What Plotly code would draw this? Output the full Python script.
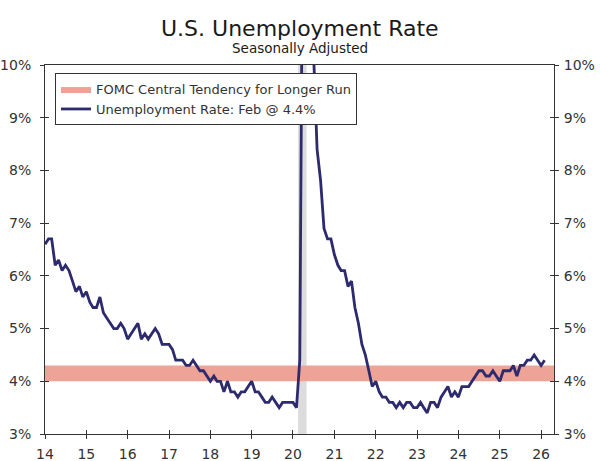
import pandas as pd
import plotly.graph_objects as go

# Unemployment rate, monthly, Jan 2014 - Feb 2026 (%)
rate_2014 = [6.6, 6.7, 6.7, 6.2, 6.3, 6.1, 6.2, 6.1, 5.9, 5.7, 5.8, 5.6]
rate_2015 = [5.7, 5.5, 5.4, 5.4, 5.6, 5.3, 5.2, 5.1, 5.0, 5.0, 5.1, 5.0]
rate_2016 = [4.8, 4.9, 5.0, 5.1, 4.8, 4.9, 4.8, 4.9, 5.0, 4.9, 4.7, 4.7]
rate_2017 = [4.7, 4.6, 4.4, 4.4, 4.4, 4.3, 4.3, 4.4, 4.3, 4.2, 4.2, 4.1]
rate_2018 = [4.0, 4.1, 4.0, 4.0, 3.8, 4.0, 3.8, 3.8, 3.7, 3.8, 3.8, 3.9]
rate_2019 = [4.0, 3.8, 3.8, 3.7, 3.6, 3.6, 3.7, 3.6, 3.5, 3.6, 3.6, 3.6]
rate_2020 = [3.6, 3.5, 4.4, 14.8, 13.2, 11.0, 10.2, 8.4, 7.8, 6.9, 6.7, 6.7]
rate_2021 = [6.4, 6.2, 6.1, 6.1, 5.8, 5.9, 5.4, 5.1, 4.7, 4.5, 4.2, 3.9]
rate_2022 = [4.0, 3.8, 3.7, 3.7, 3.6, 3.6, 3.5, 3.6, 3.5, 3.6, 3.6, 3.5]
rate_2023 = [3.5, 3.6, 3.5, 3.4, 3.6, 3.6, 3.5, 3.7, 3.8, 3.9, 3.7, 3.8]
rate_2024 = [3.7, 3.9, 3.9, 3.9, 4.0, 4.1, 4.2, 4.2, 4.1, 4.1, 4.2, 4.1]
rate_2025 = [4.0, 4.2, 4.2, 4.2, 4.3, 4.1, 4.3, 4.3, 4.4, 4.4, 4.5, 4.4]
rate_2026 = [4.3, 4.4]

# FOMC longer-run central tendency
fomc_low = 4.0
fomc_high = 4.3

# recession shading
recession_start = "2020-02-15"
recession_end = "2020-04-30"

year_ticks = [f"{y}-01-01" for y in range(2014, 2027)]
year_labels = [str(y)[2:] for y in range(2014, 2027)]
pct_ticks = [3, 4, 5, 6, 7, 8, 9, 10]
pct_labels = [f"{v}%" for v in pct_ticks]

rates = (rate_2014 + rate_2015 + rate_2016 + rate_2017 + rate_2018 + rate_2019
         + rate_2020 + rate_2021 + rate_2022 + rate_2023 + rate_2024 + rate_2025
         + rate_2026)
dates = pd.date_range("2014-01-01", periods=len(rates), freq="MS")

x_start = "2014-01-01"
x_end = "2026-04-25"

NAVY = "#2d2a6e"
SALMON = "#eda396"
AXIS = "#333333"
FONT = "DejaVu Sans"

fig = go.Figure()

# band on the base axes, line on the overlay axes (drawn on top)
fig.add_trace(go.Scatter(
    x=[x_start, x_end, x_end, x_start, x_start],
    y=[fomc_low, fomc_low, fomc_high, fomc_high, fomc_low],
    fill="toself", fillcolor=SALMON, mode="lines", line=dict(width=0, color=SALMON),
    name="FOMC Central Tendency for Longer Run", hoverinfo="skip",
    xaxis="x", yaxis="y"))

fig.add_trace(go.Scatter(
    x=dates, y=rates, mode="lines", line=dict(color=NAVY, width=2.8),
    name="Unemployment Rate: Feb @ 4.4%", xaxis="x2", yaxis="y2"))

fig.add_shape(type="rect", xref="x", yref="paper", x0=recession_start, x1=recession_end,
              y0=0, y1=1, fillcolor="#dcdcdc", line_width=0, layer="below")

common_y = dict(range=[3, 10], tickvals=pct_ticks, ticktext=pct_labels, showgrid=False,
                zeroline=False, linecolor=AXIS, linewidth=1, tickcolor=AXIS, ticklen=4,
                tickfont=dict(size=14, color=AXIS), ticklabelstandoff=6, automargin=False)
common_x = dict(range=[x_start, x_end], tickvals=year_ticks, ticktext=year_labels,
                showgrid=False, zeroline=False, linecolor=AXIS, linewidth=1,
                tickcolor=AXIS, ticklen=4, automargin=False)

fig.update_layout(
    width=600, height=461,
    margin=dict(l=45, r=46, t=65, b=27),
    paper_bgcolor="white", plot_bgcolor="white",
    font=dict(family=FONT, color=AXIS),
    showlegend=True,
    legend=dict(x=0.0196, y=0.978, xanchor="left", yanchor="top",
                bgcolor="white", bordercolor=AXIS, borderwidth=1,
                font=dict(size=13, color=AXIS), tracegroupgap=0,
                itemwidth=30),
    xaxis=dict(**common_x, ticks="outside", tickfont=dict(size=14, color=AXIS),
               ticklabelstandoff=3, mirror=True),
    xaxis2=dict(**common_x, ticks="inside", overlaying="x", anchor="y2",
                showticklabels=False),
    yaxis=dict(**common_y, ticks="outside", side="left", mirror="allticks"),
    yaxis2=dict(**common_y, ticks="inside", side="right", overlaying="y", anchor="x2",
                mirror="allticks"),
    annotations=[
        dict(text="U.S. Unemployment Rate", xref="paper", yref="paper", x=0.5, y=1.098,
             xanchor="center", yanchor="middle", showarrow=False,
             font=dict(size=22, color="#1a1a1a")),
        dict(text="Seasonally Adjusted", xref="paper", yref="paper", x=0.5, y=1.046,
             xanchor="center", yanchor="middle", showarrow=False,
             font=dict(size=13.5, color="#1a1a1a")),
    ],
)

# drop the browser's default page margin so the 600x461 figure fills the window
fig.write_html("out.html", config={"displayModeBar": False},
               post_script="document.body.style.margin = '0';")
